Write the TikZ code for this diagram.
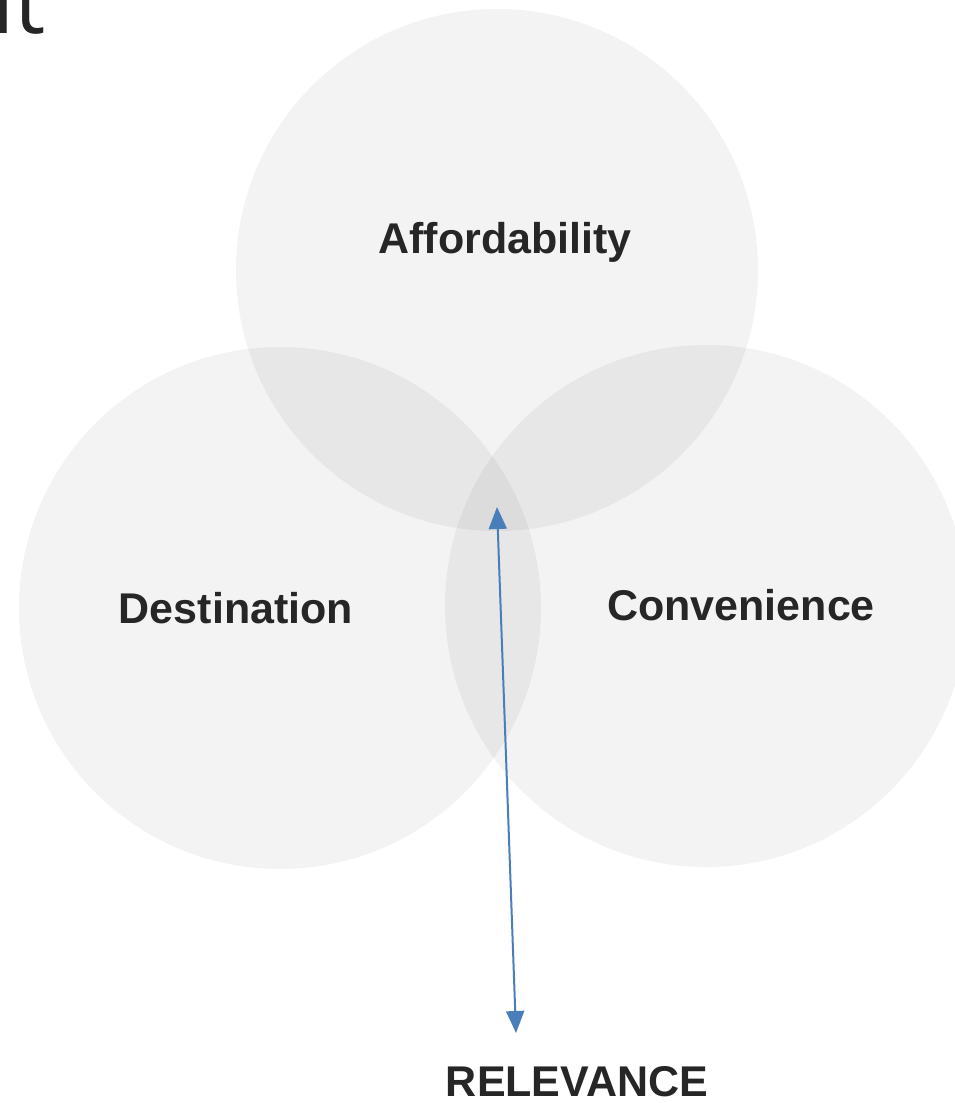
\documentclass[tikz,border=0pt]{standalone}
\usepackage{fontspec}
\setmainfont{Liberation Sans}
\newfontfamily\titlefont{Open Sans}
\usetikzlibrary{arrows.meta}
\definecolor{txt}{HTML}{262626}
\definecolor{arr}{HTML}{4A7EBB}
\tikzset{
  venn/.style={circle, fill=black, fill opacity=0.047, draw=none, minimum size=522pt, inner sep=0pt},
  lab/.style={font=\fontsize{43}{50}\selectfont\bfseries, text=txt, inner sep=0pt},
  relarrow/.style={draw=arr, line width=2pt, {Triangle[width=18pt,length=22pt]}-{Triangle[width=18pt,length=22pt]}}
}
\begin{document}
\begin{tikzpicture}[x=1pt,y=-1pt]
\useasboundingbox (0,0) rectangle (954,1103);
\fill[white] (0,0) rectangle (954,1103);
\node[venn] (top) at (497,270) {};
\node[venn] (left) at (280,608) {};
\node[venn] (right) at (706,606) {};
\node[lab] (aff) at (505,242) {Affordability};
\node[lab] (dest) at (236,608) {Destination};
\node[lab] (conv) at (741,605) {Convenience};
\node[lab] (rel) at (577,1082) {RELEVANCE};
\node[font=\titlefont\fontsize{88}{96}\selectfont, text=txt, anchor=base east, inner sep=0pt] (title) at (46,33) {it};
\coordinate (atop) at (497,507);
\coordinate (abot) at (516,1033);
\draw[relarrow] (atop) -- (abot);
\end{tikzpicture}
\end{document}
